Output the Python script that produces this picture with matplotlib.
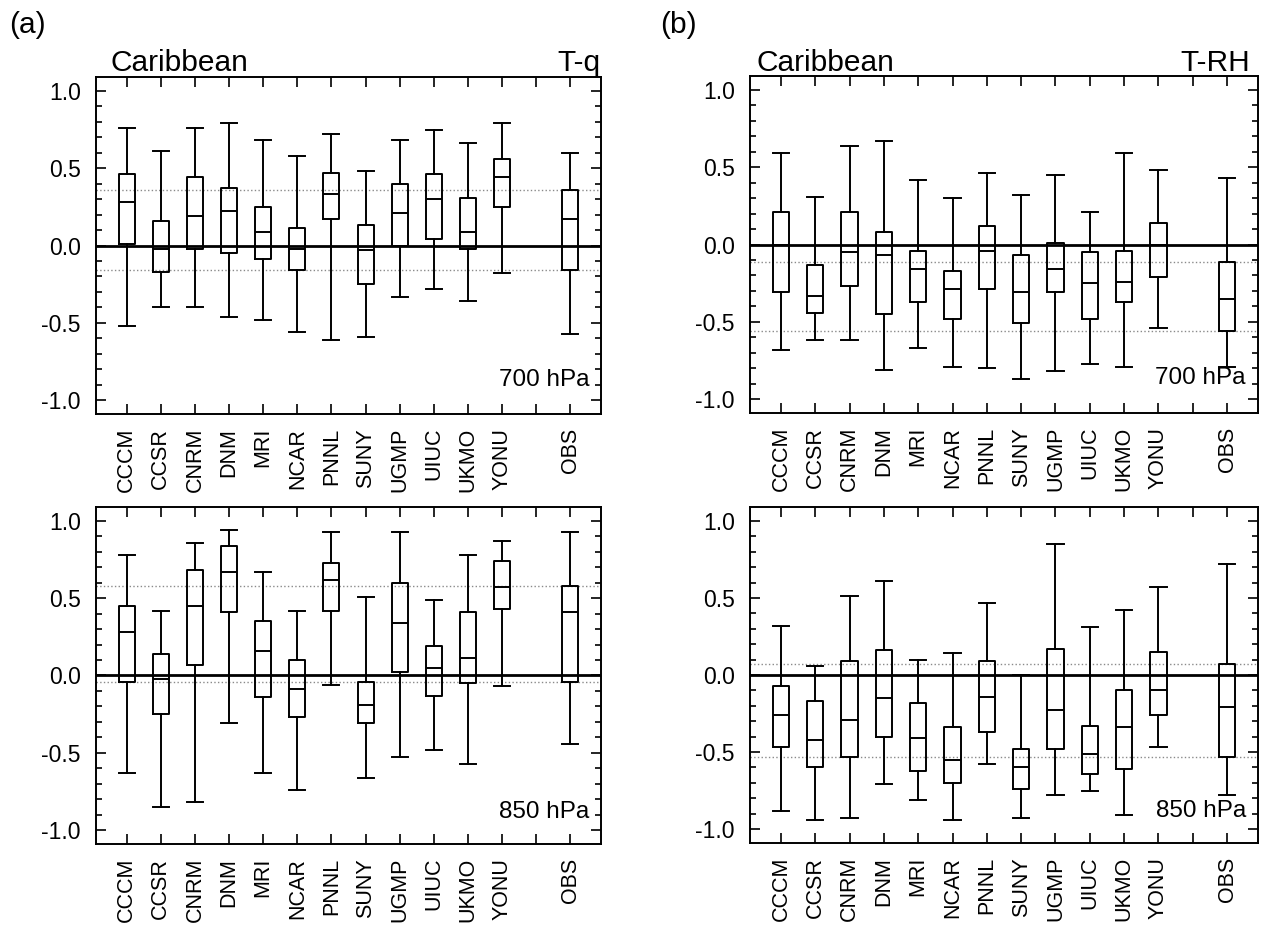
import matplotlib
matplotlib.use('Agg')
import matplotlib.pyplot as plt
from matplotlib.ticker import MultipleLocator, FormatStrFormatter

plt.rcParams['font.family'] = ['Liberation Sans', 'DejaVu Sans']
plt.rcParams['axes.unicode_minus'] = False

models = ['CCCM', 'CCSR', 'CNRM', 'DNM', 'MRI', 'NCAR', 'PNNL', 'SUNY',
          'UGMP', 'UIUC', 'UKMO', 'YONU', 'OBS']
positions = [1, 2, 3, 4, 5, 6, 7, 8, 9, 10, 11, 12, 14]
tick_positions = list(range(1, 15))
tick_labels = models[:12] + [''] + ['OBS']

# (a) T-q, 700 hPa
tq700_hi = [0.76, 0.61, 0.76, 0.79, 0.68, 0.58, 0.72, 0.48, 0.68, 0.75, 0.66, 0.79, 0.60]
tq700_q3 = [0.46, 0.16, 0.44, 0.37, 0.25, 0.11, 0.47, 0.13, 0.40, 0.46, 0.31, 0.56, 0.36]
tq700_med = [0.28, -0.02, 0.19, 0.22, 0.09, -0.02, 0.33, -0.03, 0.21, 0.30, 0.09, 0.44, 0.17]
tq700_q1 = [0.01, -0.17, -0.02, -0.05, -0.09, -0.16, 0.17, -0.25, 0.00, 0.04, -0.02, 0.25, -0.16]
tq700_lo = [-0.52, -0.40, -0.40, -0.46, -0.48, -0.56, -0.61, -0.59, -0.33, -0.28, -0.36, -0.18, -0.57]

# (a) T-q, 850 hPa
tq850_hi = [0.78, 0.42, 0.86, 0.94, 0.67, 0.42, 0.93, 0.51, 0.93, 0.49, 0.78, 0.87, 0.93]
tq850_q3 = [0.45, 0.14, 0.68, 0.84, 0.35, 0.10, 0.73, -0.04, 0.60, 0.19, 0.41, 0.74, 0.58]
tq850_med = [0.28, -0.02, 0.45, 0.67, 0.16, -0.09, 0.62, -0.19, 0.34, 0.05, 0.11, 0.57, 0.41]
tq850_q1 = [-0.04, -0.25, 0.07, 0.41, -0.14, -0.27, 0.42, -0.31, 0.02, -0.13, -0.05, 0.43, -0.04]
tq850_lo = [-0.63, -0.85, -0.82, -0.31, -0.63, -0.74, -0.06, -0.66, -0.53, -0.48, -0.57, -0.07, -0.44]

# (b) T-RH, 700 hPa
trh700_hi = [0.59, 0.31, 0.64, 0.67, 0.42, 0.30, 0.46, 0.32, 0.45, 0.21, 0.59, 0.48, 0.43]
trh700_q3 = [0.21, -0.13, 0.21, 0.08, -0.04, -0.17, 0.12, -0.07, 0.01, -0.05, -0.04, 0.14, -0.11]
trh700_med = [0.00, -0.33, -0.05, -0.07, -0.16, -0.29, -0.04, -0.31, -0.16, -0.25, -0.24, 0.00, -0.35]
trh700_q1 = [-0.31, -0.44, -0.27, -0.45, -0.37, -0.48, -0.29, -0.51, -0.31, -0.48, -0.37, -0.21, -0.56]
trh700_lo = [-0.68, -0.62, -0.62, -0.81, -0.67, -0.79, -0.80, -0.87, -0.82, -0.77, -0.79, -0.54, -0.79]

# (b) T-RH, 850 hPa
trh850_hi = [0.32, 0.06, 0.51, 0.61, 0.10, 0.14, 0.47, 0.00, 0.85, 0.31, 0.42, 0.57, 0.72]
trh850_q3 = [-0.07, -0.17, 0.09, 0.16, -0.18, -0.34, 0.09, -0.48, 0.17, -0.33, -0.10, 0.15, 0.07]
trh850_med = [-0.26, -0.42, -0.29, -0.15, -0.41, -0.55, -0.14, -0.60, -0.23, -0.51, -0.34, -0.10, -0.21]
trh850_q1 = [-0.47, -0.60, -0.53, -0.40, -0.62, -0.70, -0.37, -0.74, -0.48, -0.64, -0.61, -0.26, -0.53]
trh850_lo = [-0.88, -0.94, -0.93, -0.71, -0.81, -0.94, -0.58, -0.93, -0.78, -0.75, -0.91, -0.47, -0.78]

W, H = 1270, 930
fig = plt.figure(figsize=(W / 100, H / 100), dpi=100)


def make_ax(left_px, top_px, bottom_px, right_px):
    return fig.add_axes([left_px / W, 1 - bottom_px / H,
                         (right_px - left_px) / W, (bottom_px - top_px) / H])


def draw(ax, hi, q3, med, q1, lo, level, text_y):
    stats = [dict(whishi=h, q3=a, med=m, q1=b, whislo=l, fliers=[])
             for h, a, m, b, l in zip(hi, q3, med, q1, lo)]
    lp = dict(color='black', linewidth=1.4)
    ax.bxp(stats, positions=positions, widths=0.47, capwidths=0.47,
           showfliers=False, manage_ticks=False,
           boxprops=lp, medianprops=lp, whiskerprops=lp, capprops=lp)
    ax.axhline(0, color='black', linewidth=2.0, zorder=1)
    ax.axhline(q3[-1], color='#8a8a8a', linewidth=1.0, linestyle=':', zorder=1)
    ax.axhline(q1[-1], color='#8a8a8a', linewidth=1.0, linestyle=':', zorder=1)
    ax.set_xlim(0.1, 14.9)
    ax.set_ylim(-1.09, 1.09)
    ax.set_xticks(tick_positions)
    ax.set_xticklabels(tick_labels, rotation=90, fontsize=15.5)
    ax.yaxis.set_major_locator(MultipleLocator(0.5))
    ax.yaxis.set_minor_locator(MultipleLocator(0.1))
    ax.yaxis.set_major_formatter(FormatStrFormatter('%.1f'))
    ax.tick_params(axis='both', which='both', direction='in',
                   top=True, right=True, width=1.2)
    ax.tick_params(axis='both', which='major', length=7)
    ax.tick_params(axis='y', which='minor', length=4.5)
    ax.tick_params(axis='x', which='major', pad=10)
    ax.tick_params(axis='y', which='major', pad=11, labelsize=16.5)
    for s in ax.spines.values():
        s.set_linewidth(1.4)
    ax.text(14.55, text_y, level, ha='right', va='baseline', fontsize=17.5)


ax_a1 = make_ax(96, 77, 414, 601)
ax_a2 = make_ax(96, 507, 844, 601)
ax_b1 = make_ax(750, 76, 413, 1258)
ax_b2 = make_ax(750, 507, 843, 1258)

draw(ax_a1, tq700_hi, tq700_q3, tq700_med, tq700_q1, tq700_lo, '700 hPa', -0.91)
draw(ax_a2, tq850_hi, tq850_q3, tq850_med, tq850_q1, tq850_lo, '850 hPa', -0.92)
draw(ax_b1, trh700_hi, trh700_q3, trh700_med, trh700_q1, trh700_lo, '700 hPa', -0.90)
draw(ax_b2, trh850_hi, trh850_q3, trh850_med, trh850_q1, trh850_lo, '850 hPa', -0.92)

fs_title = 21.5
yb = 1 - 71 / H
ypan = 1 - 33 / H
fig.text(9 / W, ypan, '(a)', fontsize=fs_title, va='baseline')
fig.text(660 / W, ypan, '(b)', fontsize=fs_title, va='baseline')
fig.text(110 / W, yb, 'Caribbean', fontsize=fs_title, va='baseline')
fig.text(600 / W, yb, 'T-q', fontsize=fs_title, va='baseline', ha='right')
fig.text(756 / W, yb, 'Caribbean', fontsize=fs_title, va='baseline')
fig.text(1250 / W, yb, 'T-RH', fontsize=fs_title, va='baseline', ha='right')

fig.savefig('out.png', dpi=100)
